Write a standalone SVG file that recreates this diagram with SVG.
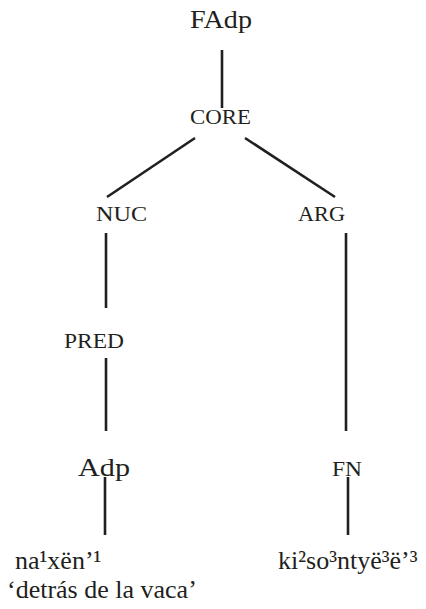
<svg xmlns="http://www.w3.org/2000/svg" width="426" height="609" viewBox="0 0 426 609">
<style>
.lg{font-family:"Liberation Serif",serif !important;font-size:26px;fill:#231f20}
.sc{font-family:"Liberation Serif",serif !important;font-size:21px;fill:#231f20}
.ln{stroke:#231f20;stroke-width:2.6;fill:none}
</style>
<rect width="426" height="609" fill="#fff"/>
<g id="connectors">
<line class="ln" x1="222" y1="50" x2="222" y2="108"/>
<line class="ln" x1="195" y1="138" x2="107" y2="197"/>
<line class="ln" x1="245" y1="138" x2="335" y2="197"/>
<line class="ln" x1="106" y1="233" x2="106" y2="308"/>
<line class="ln" x1="346" y1="233" x2="346" y2="431"/>
<line class="ln" x1="106" y1="358" x2="106" y2="431"/>
<line class="ln" x1="105" y1="477" x2="105" y2="535"/>
<line class="ln" x1="348" y1="477" x2="348" y2="535"/>
</g>
<g id="FAdp"><text class="lg" x="190" y="28" font-family="Liberation Serif" textLength="62" lengthAdjust="spacingAndGlyphs">FAdp</text></g>
<g id="CORE"><text class="sc" x="190" y="124" font-family="Liberation Serif" textLength="61" lengthAdjust="spacingAndGlyphs">CORE</text></g>
<g id="NUC"><text class="sc" x="96" y="221" font-family="Liberation Serif" textLength="51" lengthAdjust="spacingAndGlyphs">NUC</text></g>
<g id="ARG"><text class="sc" x="298" y="221" font-family="Liberation Serif" textLength="47" lengthAdjust="spacingAndGlyphs">ARG</text></g>
<g id="PRED"><text class="sc" x="64" y="348" font-family="Liberation Serif" textLength="60" lengthAdjust="spacingAndGlyphs">PRED</text></g>
<g id="Adp"><text class="lg" x="78" y="476" font-family="Liberation Serif" textLength="52" lengthAdjust="spacingAndGlyphs">Adp</text></g>
<g id="FN"><text class="sc" x="332" y="476" font-family="Liberation Serif" textLength="30" lengthAdjust="spacingAndGlyphs">FN</text></g>
<g id="word1"><text class="lg" x="15" y="569" font-family="Liberation Serif">na&#185;x&#235;n&#8217;&#185;</text><text class="lg" x="7" y="598" font-family="Liberation Serif">&#8216;detr&#225;s de la vaca&#8217;</text></g>
<g id="word2"><text class="lg" x="278" y="569" font-family="Liberation Serif">ki&#178;so&#179;nty&#235;&#179;&#235;&#8217;&#179;</text></g>
</svg>
